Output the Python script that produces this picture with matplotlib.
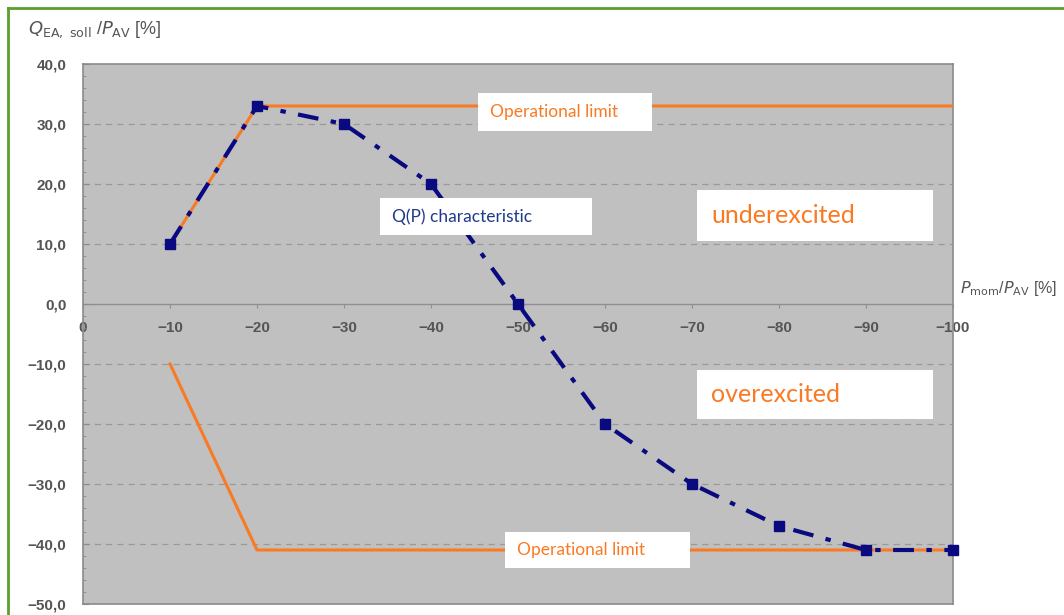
import matplotlib
matplotlib.use('Agg')
import matplotlib.pyplot as plt
import matplotlib.patches as patches
from matplotlib.lines import Line2D

# data
p_values = [-10, -20, -30, -40, -50, -60, -70, -80, -90, -100]
q_values = [10, 33, 30, 20, 0, -20, -30, -37, -41, -41]

upper_limit_p = [-10, -20, -100]
upper_limit_q = [10, 33, 33]
lower_limit_p = [-10, -20, -100]
lower_limit_q = [-10, -41, -41]

y_ticks = [40, 30, 20, 10, 0, -10, -20, -30, -40, -50]
y_labels = ['40,0', '30,0', '20,0', '10,0', '0,0', '\u221210,0', '\u221220,0',
            '\u221230,0', '\u221240,0', '\u221250,0']
x_ticks = [0, -10, -20, -30, -40, -50, -60, -70, -80, -90, -100]
x_labels = ['0'] + ['\u2212%d' % -v for v in x_ticks[1:]]

NAVY = '#0a0a80'
ORANGE = '#f97a22'
GRAY_TXT = '#555555'

plt.rcParams['font.family'] = ['Liberation Sans', 'DejaVu Sans']

fig = plt.figure(figsize=(10.64, 6.15), dpi=100)
ax = fig.add_axes([83 / 1064, 1 - 604 / 615, 870 / 1064, 540 / 615])
ax.set_facecolor('#c0c0c0')
ax.set_xlim(0, -100)
ax.set_ylim(-50, 40)

for s in ax.spines.values():
    s.set_color('#8a8a8a')
    s.set_linewidth(1.2)

# grid
for y in y_ticks:
    if y not in (0, 40, -50):
        ax.axhline(y, color='#999999', lw=0.9, ls=(0, (5, 4)), zorder=1)
ax.axhline(0, color='#8f8f8f', lw=1.0, zorder=1)

# y axis
ax.set_yticks(y_ticks)
ax.set_yticklabels(y_labels)
ax.set_yticks([v for v in range(-50, 41, 2) if v % 10], minor=True)
ax.tick_params(axis='y', which='major', direction='in', length=4, color='#8a8a8a',
               labelsize=11, labelcolor=GRAY_TXT, pad=12)
ax.tick_params(axis='y', which='minor', direction='in', length=2.5, color='#8a8a8a')
for lbl in ax.get_yticklabels():
    lbl.set_fontweight('bold')

# x axis on the zero line
ax.set_xticks([])
sec = ax.secondary_xaxis(50 / 90)
sec.xaxis.set_ticks_position('bottom')
for s in sec.spines.values():
    s.set_visible(False)
sec.set_xticks(x_ticks)
sec.set_xticklabels(x_labels)
sec.tick_params(direction='out', length=3, color='#8f8f8f', labelsize=11,
                labelcolor=GRAY_TXT, pad=9)
for lbl in sec.get_xticklabels():
    lbl.set_fontweight('bold')

# operational limits
ax.plot(upper_limit_p, upper_limit_q, color=ORANGE, lw=2.2, zorder=3)
ax.plot(lower_limit_p, lower_limit_q, color=ORANGE, lw=2.2, zorder=3)

# Q(P) characteristic
ax.plot(p_values, q_values, color=NAVY, lw=3.0, ls=(0, (5, 3, 1.3, 3)),
        marker='s', markersize=6.5, zorder=4, clip_on=False)


def label_box(x0, y0, x1, y1, text, color, size, tx):
    ax.add_patch(patches.Rectangle((x0, y0), x1 - x0, y1 - y0, transform=ax.transAxes,
                                   facecolor='white', edgecolor='none', zorder=5))
    ax.text(tx, (y0 + y1) / 2, text, transform=ax.transAxes, color=color,
            fontsize=size, family=['Lato', 'DejaVu Sans'], ha='left', va='center', zorder=6)


label_box(0.454, 0.876, 0.654, 0.946, 'Operational limit', ORANGE, 12.5, 0.468)
label_box(0.341, 0.683, 0.585, 0.752, 'Q(P) characteristic', '#1f3a8a', 12.5, 0.355)
label_box(0.706, 0.672, 0.977, 0.767, 'underexcited', ORANGE, 18, 0.722)
label_box(0.706, 0.343, 0.977, 0.433, 'overexcited', ORANGE, 18, 0.722)
label_box(0.485, 0.067, 0.698, 0.133, 'Operational limit', ORANGE, 12.5, 0.499)

# axis titles
ax.text(1.008, 50 / 90 + 0.012, r'$P_{\mathrm{mom}}$/$P_{\mathrm{AV}}$ [%]',
        transform=ax.transAxes, ha='left', va='bottom', fontsize=11.5, color=GRAY_TXT)
fig.text(28 / 1064, 1 - 30 / 615, r'$Q_{\mathrm{EA,\ soll}}$ /$P_{\mathrm{AV}}$ [%]',
         ha='left', va='center', fontsize=13, color=GRAY_TXT)

# green frame on top and left
fig.add_artist(Line2D([8 / 1064, 8 / 1064], [0, 1 - 8 / 615], transform=fig.transFigure,
                      color='#5aa02c', lw=2))
fig.add_artist(Line2D([8 / 1064, 1], [1 - 8 / 615, 1 - 8 / 615], transform=fig.transFigure,
                      color='#5aa02c', lw=2))

fig.savefig('out.png', dpi=100)
